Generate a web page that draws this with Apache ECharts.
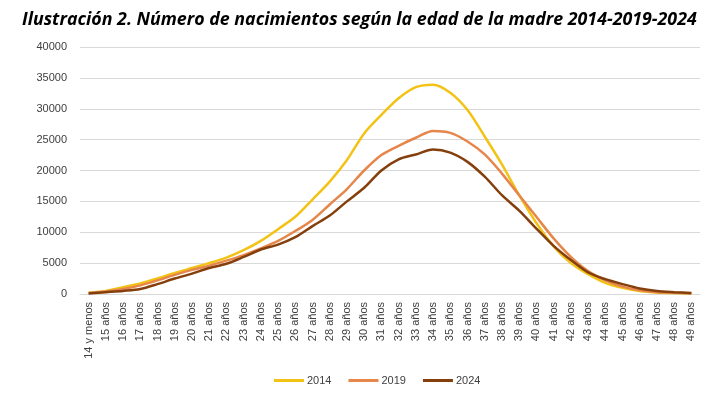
<!DOCTYPE html>
<html>
<head>
<meta charset="utf-8">
<script src="https://cdn.jsdelivr.net/npm/echarts@6/dist/echarts.min.js"></script>
<style>
  html, body { margin: 0; padding: 0; background: #fff; }
  #chart { width: 718px; height: 396px; }
</style>
</head>
<body>
<div id="chart"></div>
<script>
// edades de la madre
var edades = ['14 y menos'];
for (var a = 15; a <= 49; a++) edades.push(a + ' años');

// nacimientos por año
var nac2014 = [200, 500, 1100, 1700, 2500, 3400, 4200, 5000, 5900, 7100, 8600, 10500, 12500, 15300, 18200, 21700,
  26000, 29000, 31700, 33500, 33900, 32600, 29800, 25500, 21000, 16000, 11500, 7700, 5000, 3200, 1800, 1000, 500, 250, 150, 100];
var nac2019 = [150, 400, 800, 1400, 2200, 3100, 3900, 4600, 5400, 6300, 7400, 8600, 10200, 12000, 14500, 17000,
  20000, 22500, 24000, 25300, 26400, 26100, 24700, 22600, 19500, 16000, 12500, 9000, 6000, 3700, 2200, 1200, 600, 300, 200, 100];
var nac2024 = [100, 300, 500, 800, 1600, 2500, 3300, 4200, 4900, 6000, 7200, 8000, 9200, 11000, 12700, 15000,
  17200, 20000, 21800, 22600, 23400, 22900, 21400, 19000, 16000, 13500, 10600, 7800, 5500, 3500, 2400, 1600, 900, 500, 300, 150];

var yTicks = [0, 5000, 10000, 15000, 20000, 25000, 30000, 35000, 40000];

var chart = echarts.init(document.getElementById('chart'));

function serie(nombre, datos, color) {
  return {
    name: nombre,
    type: 'line',
    data: datos,
    smooth: 0.3,
    showSymbol: false,
    lineStyle: { color: color, width: 2.5 },
    itemStyle: { color: color }
  };
}

chart.setOption({
  animation: false,
  title: {
    text: 'Ilustración 2. Número de nacimientos según la edad de la madre 2014-2019-2024',
    left: 17,
    top: 6,
    textStyle: {
      fontFamily: 'Open Sans',
      fontStyle: 'italic',
      fontWeight: 'bold',
      fontSize: 17.8,
      color: '#000'
    }
  },
  legend: {
    bottom: 5,
    left: 269,
    icon: 'rect',
    itemWidth: 30,
    itemHeight: 3,
    itemGap: 17,
    textStyle: { fontFamily: 'Liberation Sans', fontSize: 11, color: '#404040', padding: [0, 0, 0, -2] },
    data: ['2014', '2019', '2024']
  },
  grid: { left: 80, right: 18, top: 47, bottom: 102 },
  xAxis: {
    type: 'category',
    data: edades,
    boundaryGap: true,
    axisLine: { lineStyle: { color: '#d9d9d9' } },
    axisTick: { show: false },
    axisLabel: {
      rotate: 90,
      interval: 0,
      fontFamily: 'Liberation Sans',
      fontSize: 11,
      color: '#404040',
      margin: 8
    }
  },
  yAxis: {
    type: 'value',
    min: yTicks[0],
    max: yTicks[yTicks.length - 1],
    interval: 5000,
    axisLine: { show: false },
    axisTick: { show: false },
    splitLine: { lineStyle: { color: '#d9d9d9' } },
    axisLabel: {
      fontFamily: 'Liberation Sans',
      fontSize: 11,
      color: '#404040',
      margin: 13,
      formatter: function (v) { return String(v); }
    }
  },
  series: [
    serie('2014', nac2014, '#f2c314'),
    serie('2019', nac2019, '#e6864a'),
    serie('2024', nac2024, '#843f0c')
  ]
});
</script>
</body>
</html>
